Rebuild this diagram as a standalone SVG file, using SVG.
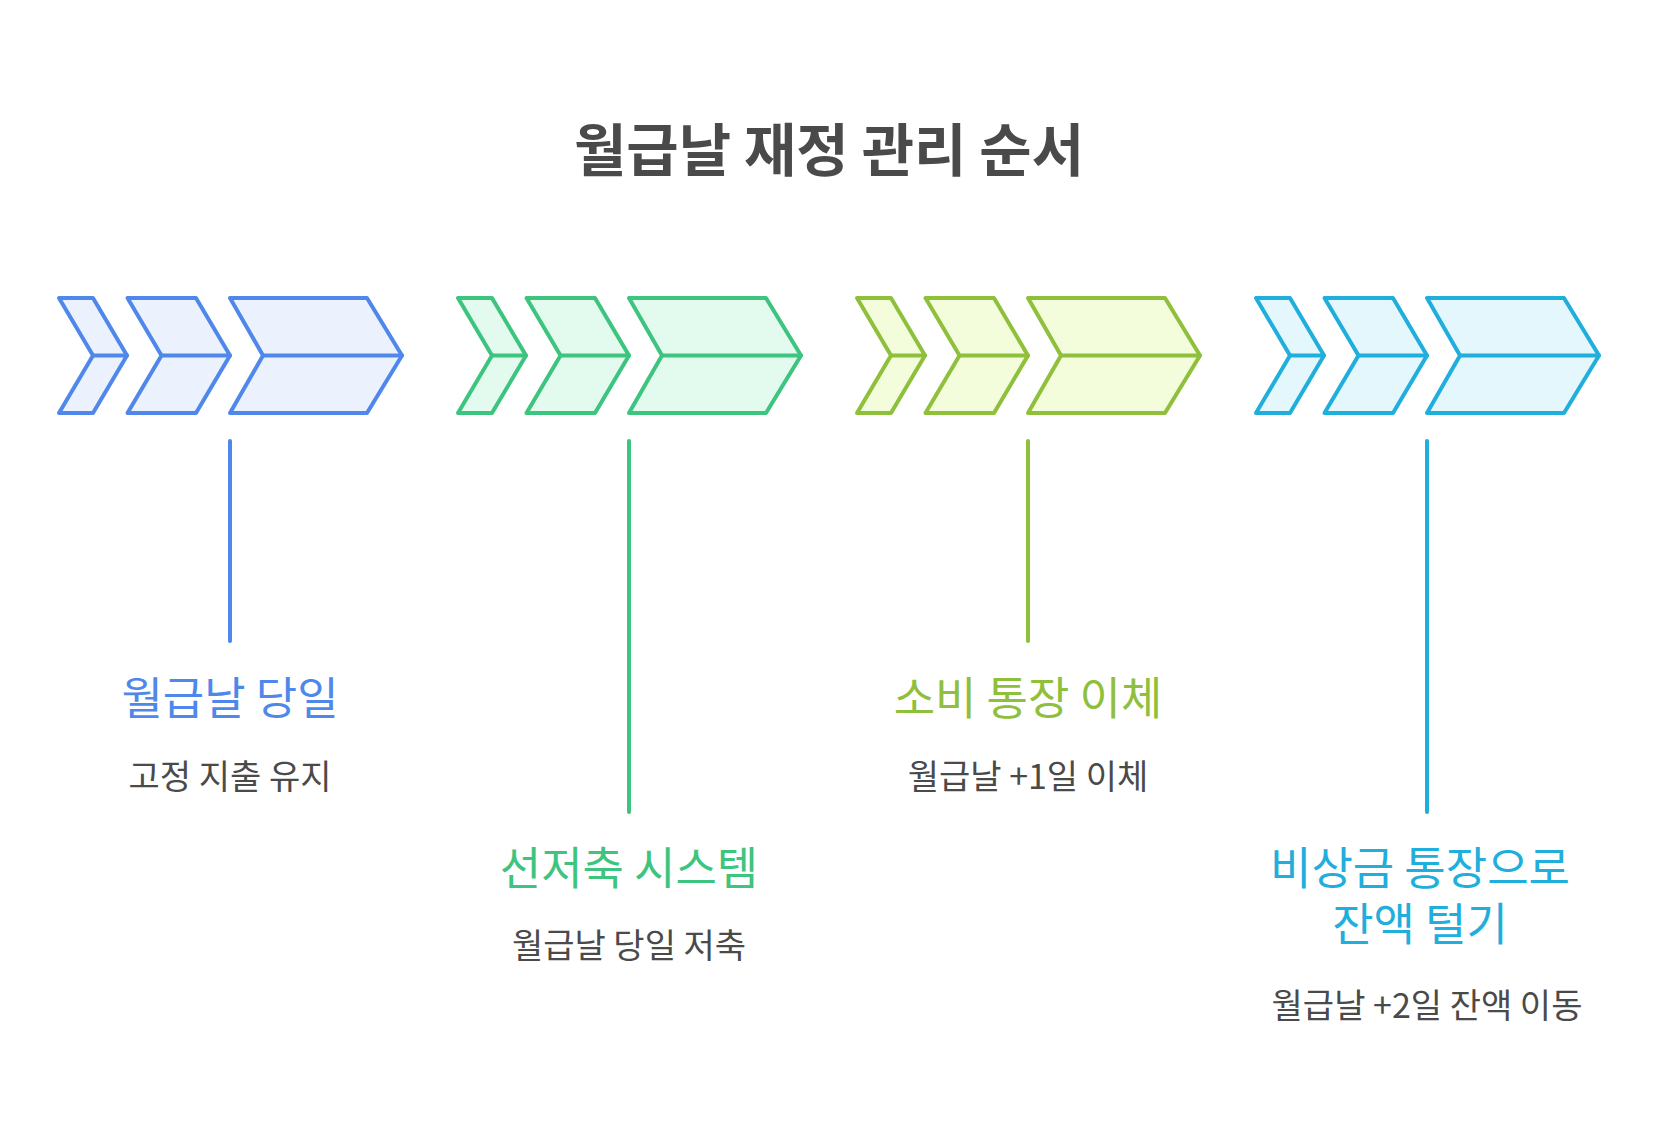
<svg xmlns="http://www.w3.org/2000/svg" width="1658" height="1140" viewBox="0 0 1658 1140">
<defs>
<style>
.ch{stroke-width:4;stroke-linejoin:round;stroke-linecap:round}
.ln{stroke-width:4;stroke-linecap:round;fill:none}
.t{font-family:"Noto Sans CJK KR","Noto Sans",sans-serif;text-anchor:middle}
.h{font-size:45px;font-weight:400}
.s{font-size:34px;fill:#4a4a4a}
.blue{stroke:#4f88ea;fill:#ebf2fe}
.green{stroke:#3dc47e;fill:#e2fbee}
.lime{stroke:#8fc03c;fill:#f3fddc}
.cyan{stroke:#20aedd;fill:#e4f7fd}
</style>
<g id="chev">
<path d="M0,0 H34 L68,57.5 L34,115 H0 L34,57.5 Z"/>
<path d="M68.5,0 H137 L171,57.5 L137,115 H68.5 L102.5,57.5 Z"/>
<path d="M171,0 H308 L343,57.5 L308,115 H171 L204,57.5 Z"/>
<path d="M34,57.5 H68 M102.5,57.5 H171 M204,57.5 H343" fill="none"/>
</g>
</defs>
<rect width="1658" height="1140" fill="#ffffff"/>
<text id="title" class="t" x="829" y="171" font-size="57" font-weight="700" fill="#4a4a4a" textLength="510" lengthAdjust="spacingAndGlyphs">월급날 재정 관리 순서</text>
<g id="connectors">
<line class="ln" x1="230" y1="441" x2="230" y2="641" stroke="#4f88ea"/>
<line class="ln" x1="629" y1="441" x2="629" y2="812" stroke="#3dc47e"/>
<line class="ln" x1="1028" y1="441" x2="1028" y2="641" stroke="#8fc03c"/>
<line class="ln" x1="1427" y1="441" x2="1427" y2="812" stroke="#20aedd"/>
</g>
<g id="step1">
<use href="#chev" class="ch blue" transform="translate(59,298)"/>
<text class="t h" x="230" y="715" fill="#4f88ea">월급날 당일</text>
<text class="t s" x="230" y="789">고정 지출 유지</text>
</g>
<g id="step2">
<use href="#chev" class="ch green" transform="translate(458,298)"/>
<text class="t h" x="629" y="885" fill="#3dc47e">선저축 시스템</text>
<text class="t s" x="629" y="958">월급날 당일 저축</text>
</g>
<g id="step3">
<use href="#chev" class="ch lime" transform="translate(857,298)"/>
<text class="t h" x="1028" y="715" fill="#8fc03c">소비 통장 이체</text>
<text class="t s" x="1028" y="789">월급날 +1일 이체</text>
</g>
<g id="step4">
<use href="#chev" class="ch cyan" transform="translate(1256,298)"/>
<text class="t h" fill="#20aedd"><tspan x="1420" y="885">비상금 통장으로</tspan><tspan x="1420" y="941">잔액 털기</tspan></text>
<text class="t s" x="1427" y="1018">월급날 +2일 잔액 이동</text>
</g>
</svg>
